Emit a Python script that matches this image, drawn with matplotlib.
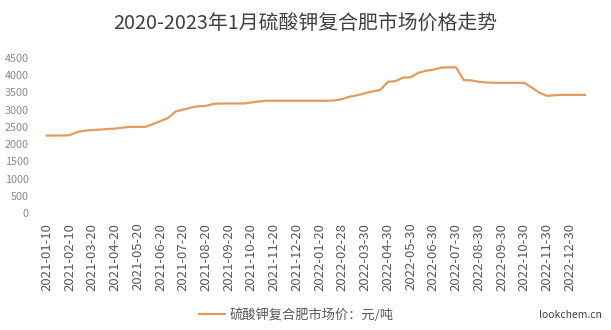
"""
2020-2023年1月硫酸钾复合肥市场价格走势 — line chart recreation.
"""

import matplotlib
matplotlib.use("Agg")
import matplotlib.pyplot as plt

plt.rcParams['font.family'] = ['Noto Sans CJK SC', 'DejaVu Sans']

# ─── Data (~10-day steps) ───────────────────────────────────────────

prices = [
    2250, 2250, 2250, 2260, 2350, 2390, 2410, 2420, 2440, 2450,
    2480, 2500, 2500, 2500, 2580, 2670, 2760, 2950, 3000, 3060,
    3100, 3110, 3170, 3180, 3180, 3180, 3180, 3210, 3240, 3260,
    3260, 3260, 3260, 3260, 3260, 3260, 3260, 3260, 3270, 3310,
    3380, 3420, 3480, 3530, 3570, 3810, 3830, 3930, 3940, 4070,
    4130, 4160, 4220, 4230, 4230, 3860, 3850, 3810, 3790, 3780,
    3780, 3780, 3780, 3780, 3640, 3490, 3400, 3420, 3430, 3430,
    3430, 3430,
]

tick_labels = [
    '2021-01-10', '2021-02-10', '2021-03-20', '2021-04-20', '2021-05-20',
    '2021-06-20', '2021-07-20', '2021-08-20', '2021-09-20', '2021-10-20',
    '2021-11-20', '2021-12-20', '2022-01-20', '2022-02-28', '2022-03-30',
    '2022-04-30', '2022-05-30', '2022-06-30', '2022-07-30', '2022-08-30',
    '2022-09-30', '2022-10-30', '2022-11-30', '2022-12-30',
]

y_ticks = list(range(0, 4501, 500))

title = '2020-2023年1月硫酸钾复合肥市场价格走势'
series_name = '硫酸钾复合肥市场价：元/吨'

# ─── Plot ───────────────────────────────────────────────────────────

fig = plt.figure(figsize=(6.11, 3.30), dpi=100)
ax = fig.add_axes([0.0655, 0.3545, 0.903, 0.4697])

line_color = '#E59B5E'
ax.plot(range(len(prices)), prices, color=line_color, linewidth=1.6,
        label=series_name)

ax.set_xlim(-0.9, len(prices) - 0.1)
ax.set_ylim(0, 4500)
ax.set_yticks(y_ticks)
ax.set_yticklabels([str(v) for v in y_ticks])
ax.set_xticks(range(0, 3 * len(tick_labels), 3))
ax.set_xticklabels(tick_labels, rotation=90)

for s in ax.spines.values():
    s.set_visible(False)
ax.tick_params(axis='y', length=0, pad=8, labelsize=7.8, labelcolor='#8c8c8c')
ax.tick_params(axis='x', length=0, pad=7, labelsize=9.5, labelcolor='#595959')

fig.text(0.5, 0.93, title, ha='center', va='center', fontsize=14.3,
         color='#404040')

leg = fig.legend(loc='center', bbox_to_anchor=(0.485, 0.045), frameon=False,
                 fontsize=9.5, handlelength=2.0, handletextpad=0.3)
for t in leg.get_texts():
    t.set_color('#595959')

fig.text(0.985, 0.045, 'lookchem.cn', ha='right', va='center', fontsize=7.5,
         color='#404040')

fig.savefig('out.png', dpi=100, facecolor='white')
